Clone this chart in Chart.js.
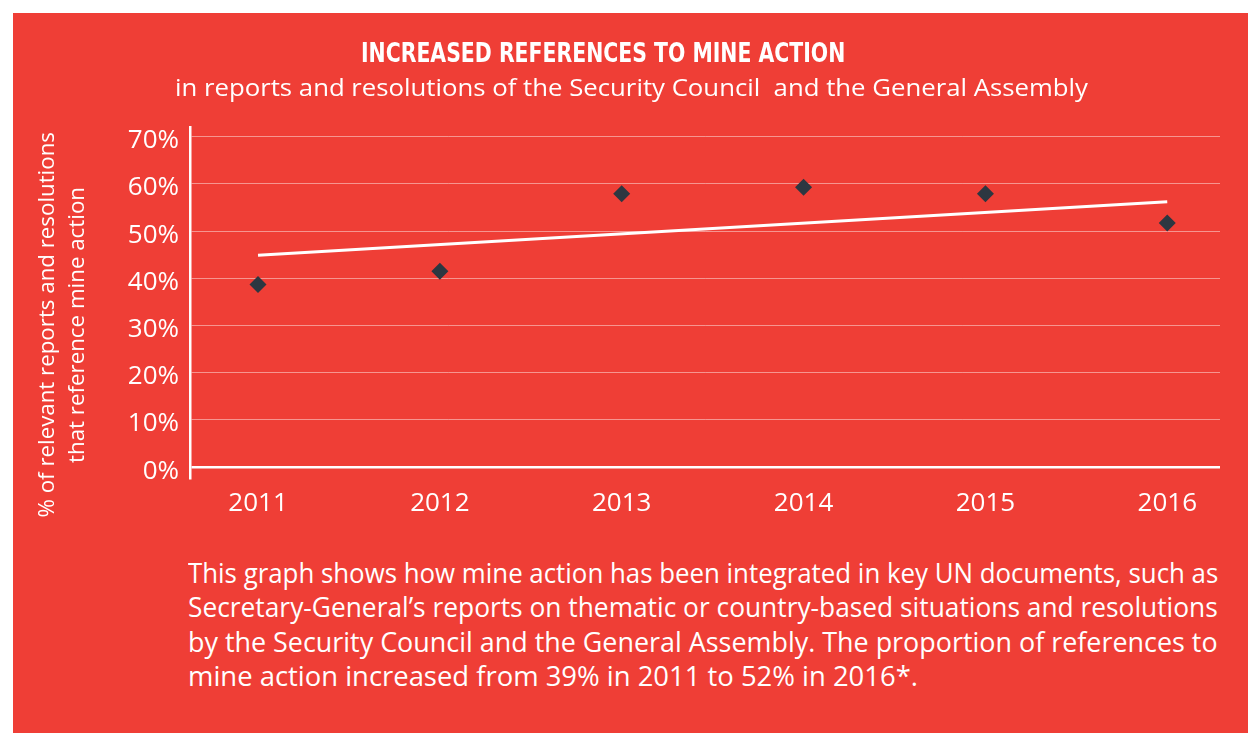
<!DOCTYPE html>
<html>
<head>
<meta charset="utf-8">
<script src="https://cdn.jsdelivr.net/npm/chart.js@4.4.0/dist/chart.umd.min.js"></script>
<style>
  html, body { margin: 0; padding: 0; background: #fff; width: 1248px; height: 733px; overflow: hidden; }
  #panel { position: absolute; left: 13px; top: 13px; width: 1235px; height: 720px; background: #ef3e36; }
  #chart { position: absolute; left: 0; top: 0; }
  .txt { position: absolute; color: #fff; white-space: nowrap; }
  .txt span { display: inline-block; transform-origin: 0 50%; }
  #title { font-family: "DejaVu Sans Condensed", "DejaVu Sans", sans-serif; font-weight: bold; font-stretch: condensed;
    font-size: 27.4px; line-height: 27.4px; left: 361px; top: 39px; }
  #subtitle { font: 24.5px "Open Sans", sans-serif; line-height: 24.5px; left: 175px; top: 75px; }
  #ytitle { left: 60px; top: 325px; width: 0; height: 0; }
  #ytitle .inner { position: absolute; left: -300px; top: -30px; width: 600px; height: 60px;
    transform: rotate(-90deg); transform-origin: 300px 30px; text-align: center;
    font: 22px "Open Sans", sans-serif; line-height: 30px; }
  #ytitle .inner span { transform-origin: 50% 50%; }
  #para { left: 188px; top: 557px; width: 1030px; font: 23px "Open Sans", sans-serif; line-height: 34.5px; }
  #para div { white-space: nowrap; }
</style>
</head>
<body>
<div id="panel"></div>
<canvas id="chart" width="1248" height="540"></canvas>

<div id="title" class="txt"><span>INCREASED REFERENCES TO MINE ACTION</span></div>
<div id="subtitle" class="txt"><span>in reports and resolutions of the Security Council&nbsp; and the General Assembly</span></div>
<div id="ytitle" class="txt"><div class="inner">
  <div><span>% of relevant reports and resolutions</span></div>
  <div><span>that reference mine action</span></div>
</div></div>
<div id="para" class="txt">
  <div><span>This graph shows how mine action has been integrated in key UN documents, such as</span></div>
  <div><span>Secretary-General’s reports on thematic or country-based situations and resolutions</span></div>
  <div><span>by the Security Council and the General Assembly. The proportion of references to</span></div>
  <div class="last"><span>mine action increased from 39% in 2011 to 52% in 2016*.</span></div>
</div>

<script>
// values
const years = [2011, 2012, 2013, 2014, 2015, 2016];
const sharePct = [38.7, 41.5, 57.9, 59.3, 57.9, 51.7];
const trendYears = [2011, 2016];
const trendPct = [44.9, 56.2];
const yTickValues = [0, 10, 20, 30, 40, 50, 60, 70];

const tickFont = { family: 'Open Sans', size: 26 };

new Chart(document.getElementById('chart'), {
    type: 'scatter',
    data: {
        datasets: [{
            label: 'References',
            data: years.map((y, i) => ({ x: y, y: sharePct[i] })),
            pointStyle: 'rectRot',
            pointRadius: 8.5,
            pointHoverRadius: 8.5,
            backgroundColor: '#2d3741',
            borderColor: '#2d3741',
            borderWidth: 0
        }, {
            type: 'line',
            label: 'Trend',
            data: trendYears.map((y, i) => ({ x: y, y: trendPct[i] })),
            borderColor: '#ffffff',
            borderWidth: 3,
            pointRadius: 0,
            fill: false
        }]
    },
    options: {
        responsive: false,
        animation: false,
        devicePixelRatio: 1,
        layout: { padding: { top: 127, right: 28, left: 0, bottom: 0 } },
        plugins: { legend: { display: false }, tooltip: { enabled: false } },
        scales: {
            x: {
                type: 'linear',
                min: 2010.626,
                max: 2016.29,
                grid: { display: false },
                border: { display: false },
                afterBuildTicks: s => { s.ticks = years.map(v => ({ value: v })) },
                afterFit: s => { s.height = 62 },
                ticks: {
                    color: '#fff', padding: 2, font: tickFont,
                    maxRotation: 0, autoSkip: false,
                    callback: v => String(v)
                }
            },
            y: {
                min: -2.3,
                max: 72.05,
                afterBuildTicks: s => { s.ticks = yTickValues.map(v => ({ value: v })) },
                afterFit: s => { s.width = 190 },
                ticks: {
                    color: '#fff', padding: 11, font: tickFont, labelOffset: 4,
                    callback: v => v + '%'
                },
                grid: {
                    drawTicks: false,
                    color: c => (c.tick && c.tick.value === 0) ? '#ffffff' : 'rgba(255,255,255,0.45)',
                    lineWidth: c => (c.tick && c.tick.value === 0) ? 2.5 : 1
                },
                border: { color: '#ffffff', width: 2.5 }
            }
        }
    }
});

// stretch text blocks to the widths measured on the reference
function fitWidth(span, target) {
    const w = span.offsetWidth;
    span.style.transform = 'scaleX(' + (target / w) + ')';
}
fitWidth(document.querySelector('#title span'), 484);
fitWidth(document.querySelector('#subtitle span'), 913);
const yLines = document.querySelectorAll('#ytitle .inner span');
fitWidth(yLines[0], 385);
fitWidth(yLines[1], 276);

// paragraph: size the font from the last line, justify the others
const para = document.getElementById('para');
const lastSpan = para.querySelector('.last span');
const fs = 23 * 730 / lastSpan.offsetWidth;
para.style.fontSize = fs + 'px';
para.style.top = (583.8 - ((34.5 - 1.362 * fs) / 2 + 1.069 * fs)) + 'px';
para.querySelectorAll('div:not(.last)').forEach(d => {
    const sp = d.querySelector('span');
    const w = sp.offsetWidth;
    if (w <= 1030) {
        sp.style.display = 'inline';
        d.style.textAlign = 'justify';
        d.style.textAlignLast = 'justify';
    } else {
        sp.style.transform = 'scaleX(' + (1030 / w) + ')';
    }
});
</script>
</body>
</html>
